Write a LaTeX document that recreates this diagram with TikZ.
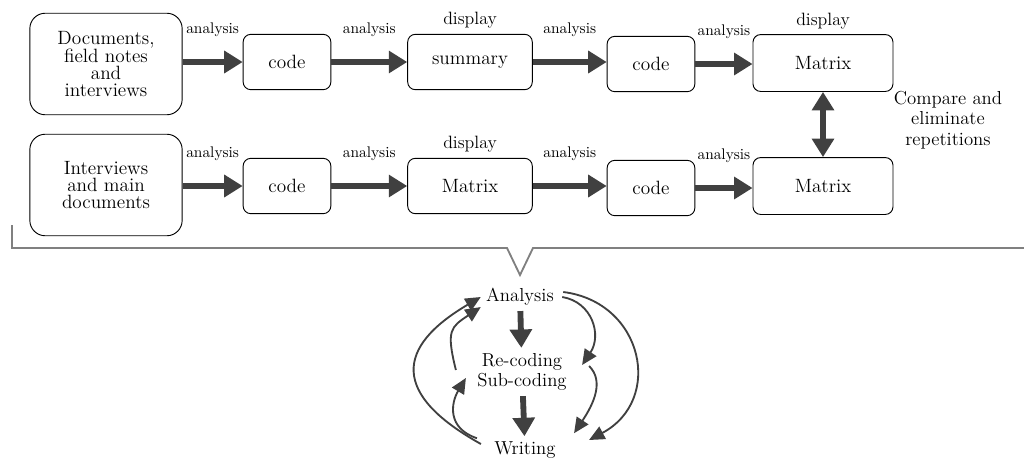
\documentclass[tikz,border=0pt]{standalone}
\usetikzlibrary{arrows.meta}

\definecolor{arrowgray}{HTML}{404040}
\definecolor{framegray}{HTML}{808080}

\begin{document}
\begin{tikzpicture}[x=0.65pt,y=-0.65pt,
  box/.style={draw,line width=0.6pt,rounded corners=5pt,align=center,inner sep=0pt,
    font=\fontsize{12.5}{11}\selectfont},
  small/.style={box,minimum width=57pt,minimum height=36pt},
  mid/.style={box,minimum width=81pt,minimum height=36pt},
  wide/.style={box,minimum width=91pt,minimum height=37pt},
  big/.style={box,rounded corners=10pt,minimum width=99pt,minimum height=66pt},
  flow/.style={-{Triangle[length=12pt,width=14pt]},line width=3.8pt,color=arrowgray},
  both/.style={{Triangle[length=12pt,width=14pt]}-{Triangle[length=12pt,width=14pt]}},
  cycle/.style={-{Triangle[length=10pt,width=9pt]},line width=1.2pt,color=arrowgray},
  lab/.style={font=\fontsize{10}{12}\selectfont,text=black,midway,yshift=21pt},
  disp/.style={font=\fontsize{11.6}{13}\selectfont},
  step text/.style={align=center,font=\fontsize{12.2}{13.3}\selectfont}]

\useasboundingbox (0,0) rectangle (1024,461);

% first row
\node[big]   (docs)  at (106,64)  {Documents,\\field notes\\and\\interviews};
\node[small] (code1) at (287,62)  {code};
\node[mid,label={[disp]above:display}]  (summ) at (470,62) {summary};
\node[small] (code2) at (651,64)  {code};
\node[wide,label={[disp]above:display}] (mat1) at (823,63) {Matrix};

% second row
\node[big]   (intv)  at (106,185) {Interviews\\and main\\documents};
\node[small] (code3) at (287,186) {code};
\node[mid,label={[disp]above:display}]  (mat2) at (470,186) {Matrix};
\node[small] (code4) at (651,188) {code};
\node[wide]  (mat3)  at (823,186) {Matrix};

\node[step text] (cmp) at (948,120) {Compare and\\eliminate\\repetitions};

\path (docs.east |- code1.west) edge[flow] node[lab] {analysis} (code1.west)
      (code1.east) edge[flow] node[lab] {analysis} (summ.west |- code1.east)
      (summ.east)  edge[flow] node[lab] {analysis} (code2.west |- summ.east)
      (code2.east) edge[flow] node[lab] {analysis} (mat1.west |- code2.east)
      (intv.east |- code3.west) edge[flow] node[lab] {analysis} (code3.west)
      (code3.east) edge[flow] node[lab] {analysis} (mat2.west |- code3.east)
      (mat2.east)  edge[flow] node[lab] {analysis} (code4.west |- mat2.east)
      (code4.east) edge[flow] node[lab] {analysis} (mat3.west |- code4.east);
\draw[flow,both] (mat1.south) -- (mat3.north);

% bracket
\draw[framegray,line width=1.2pt] (12,225) -- (12,248) -- (507,248) -- (520,275)
  -- (533,248) -- (1024,248);

% cycle below
\node[step text] (ana) at (520,297) {Analysis};
\node[step text] (rec) at (522,372) {Re-coding\\Sub-coding};
\node[step text] (wri) at (525,450) {Writing};

\draw[flow] (ana) -- (rec);
\draw[flow] (rec) -- (wri);

\draw[cycle] ([shift={(-8,-6)}]wri.west) .. controls +(-90,-50) and +(-85,50) .. (ana.west);
\draw[cycle] ([shift={(-16,-2)}]rec.west) .. controls +(-10,-40) and +(-30,20) .. ([shift={(0,-4)}]ana.south west);
\draw[cycle] ([shift={(-12,2)}]wri.north west) .. controls +(-30,-10) and +(-15,25) .. ([shift={(-6,6)}]rec.west);
\draw[cycle] ([shift={(3,0)}]ana.east) .. controls +(30,5) and +(20,-30) .. ([shift={(10,-7)}]rec.east);
\draw[cycle] ([shift={(4,-5)}]ana.east) .. controls +(80,10) and +(75,-40) .. ([shift={(28,-10)}]wri.east);
\draw[cycle] ([shift={(17,-6)}]rec.east) .. controls +(15,15) and +(20,-30) .. ([shift={(13,-3)}]wri.north east);

\end{tikzpicture}
\end{document}
